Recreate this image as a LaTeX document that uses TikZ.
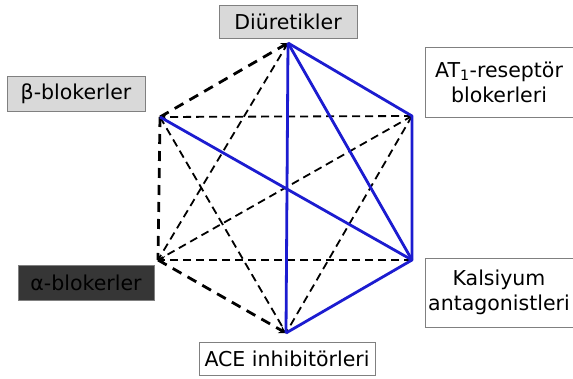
\documentclass[tikz,border=0pt]{standalone}
\usepackage{fontspec}
\setmainfont{DejaVu Sans}
\usetikzlibrary{arrows.meta}
\definecolor{EdgeBlue}{HTML}{1C1CD0}
\definecolor{BoxGray}{HTML}{D9D9D9}
\definecolor{BoxDark}{HTML}{363636}
\definecolor{BoxLine}{HTML}{808080}

\begin{document}
\begin{tikzpicture}[x=1pt,y=-1pt,
  tag/.style={draw=BoxLine,line width=0.8pt,inner sep=0pt,align=center,
              font=\fontsize{20.5}{25}\selectfont},
  strong/.style={EdgeBlue,line width=2.8pt,line join=round},
  weak/.style={line width=1.8pt,dash pattern=on 8pt off 5pt},
  outer/.style={line width=2.8pt,dash pattern=on 10pt off 7pt},
  tip/.style={-{Stealth[length=7pt,width=8pt]}}
]
  \useasboundingbox (0,0) rectangle (573,378);

  % hexagon corners
  \coordinate (top) at (288,43);
  \coordinate (uright) at (412,116);
  \coordinate (lright) at (412,260);
  \coordinate (bottom) at (286,333);
  \coordinate (lleft) at (158,260);
  \coordinate (uleft) at (160,117);

  % drug groups
  \node[tag,fill=BoxGray,minimum width=138pt,minimum height=33pt] (diur) at (288,22) {Diüretikler};
  \node[tag,fill=BoxGray,minimum width=138pt,minimum height=35pt] (beta) at (76,94) {β-blokerler};
  \node[tag,fill=white,minimum width=148pt,minimum height=70pt] (at1) at (499,82) {AT\textsubscript{1}-reseptör\\blokerleri};
  \node[tag,fill=BoxDark,text=black,minimum width=136pt,minimum height=35pt] (alfa) at (86,282.5) {α-blokerler};
  \node[tag,fill=white,minimum width=148pt,minimum height=69pt] (kals) at (499,292.5) {Kalsiyum\\antagonistleri};
  \node[tag,fill=white,minimum width=176pt,minimum height=33pt] (ace) at (287,358.5) {ACE inhibitörleri};

  % weak combinations
  \draw[weak,tip] (uright) -- (uleft);
  \draw[weak,tip] (lright) -- (lleft);
  \draw[weak] (uleft) -- (bottom);
  \draw[weak] (top) -- (lleft);
  \draw[weak] (uright) -- (lleft);
  \draw[weak] (uright) -- (bottom);
  \draw[outer,tip] (uleft) -- (top);
  \draw[outer] (uleft) -- (lleft);
  \draw[outer,tip] (lleft) -- (bottom);

  % preferred combinations
  \draw[strong] (top) -- (bottom);
  \draw[strong] (top) -- (uright) -- (lright) -- (bottom);
  \draw[strong] (top) -- (lright);
  \draw[strong] (lright) -- (uleft);
\end{tikzpicture}
\end{document}
